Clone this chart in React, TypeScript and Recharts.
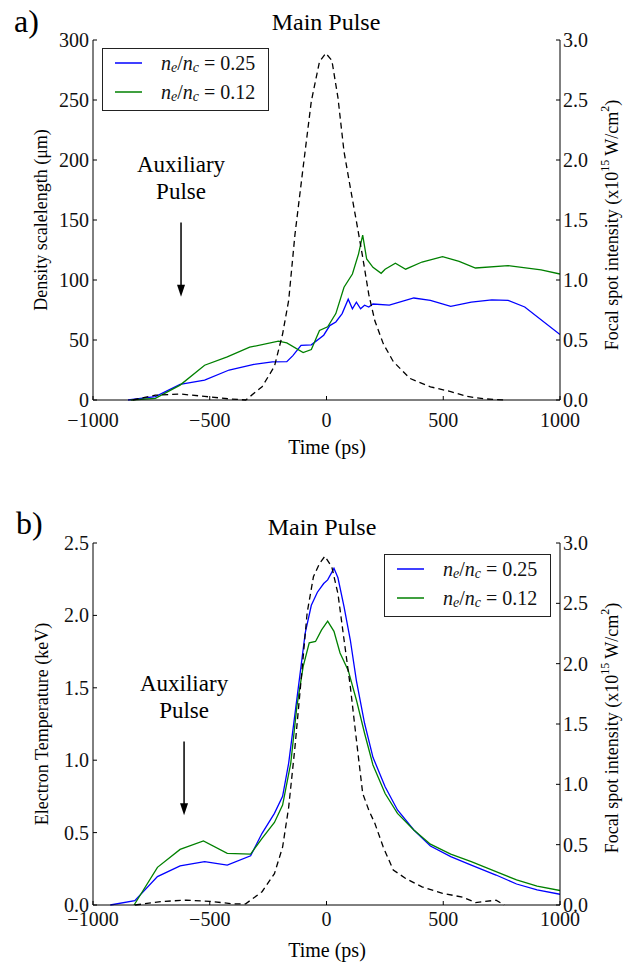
import { ComposedChart, Line, XAxis, YAxis, ReferenceLine, Legend } from 'recharts'

// ---- panel a) density scalelength ----
const topBlueTime = [-850, -733, -627, -522, -417, -311, -232, -170, -144, -109, -65, -12, 14, 40, 67, 93, 111, 128, 146, 163, 181, 199, 269, 374, 445, 532, 620, 708, 778, 849, 1000]
const topBlue = [0, 2.8, 13, 16.6, 25, 29.6, 31.8, 32, 37, 45.6, 46, 54, 62, 65, 72, 84, 76, 81.5, 76, 79, 77.5, 80, 79, 85, 83, 78, 81.5, 83.5, 83, 77.5, 54.5]

const topGreenTime = [-838, -733, -627, -522, -425, -329, -206, -170, -100, -65, -30, 5, 40, 75, 111, 137, 155, 172, 199, 234, 251, 295, 339, 409, 497, 568, 638, 778, 919, 1000]
const topGreen = [0, 1.4, 12.4, 29, 36, 44, 49, 47.6, 39.5, 42, 58, 61, 72, 94, 105, 121.6, 137.4, 117.5, 110.6, 105.6, 109, 114, 109, 115, 119.5, 115.6, 110, 112, 108.4, 105]

const topPulseTime = [-830, -733, -627, -522, -420, -346, -276, -223, -188, -162, -135, -100, -65, -30, -3, 23, 49, 75, 102, 128, 155, 181, 207, 243, 286, 357, 445, 532, 603, 673, 761]
const topPulse = [0, 0.04, 0.05, 0.03, 0.01, 0, 0.11, 0.28, 0.55, 0.83, 1.38, 1.94, 2.49, 2.82, 2.89, 2.83, 2.52, 2.07, 1.77, 1.49, 1.19, 0.88, 0.66, 0.47, 0.32, 0.18, 0.11, 0.07, 0.03, 0.01, 0]

// ---- panel b) electron temperature ----
const botBlueTime = [-926, -821, -724, -627, -522, -425, -325, -276, -223, -188, -162, -135, -109, -91, -65, -39, -12, 5, 32, 49, 75, 102, 128, 163, 199, 251, 304, 374, 445, 532, 620, 726, 814, 902, 1000]
const botBlue = [0, 0.03, 0.196, 0.27, 0.3, 0.276, 0.34, 0.495, 0.633, 0.75, 0.98, 1.32, 1.65, 1.88, 2.07, 2.16, 2.22, 2.245, 2.325, 2.26, 2.06, 1.83, 1.55, 1.255, 1.02, 0.817, 0.656, 0.518, 0.407, 0.334, 0.276, 0.207, 0.145, 0.104, 0.074]

const botGreenTime = [-824, -724, -627, -527, -425, -325, -276, -223, -188, -153, -127, -100, -74, -47, -21, 5, 32, 58, 93, 128, 163, 199, 251, 304, 374, 445, 532, 620, 726, 814, 902, 1000]
const botGreen = [0, 0.26, 0.384, 0.442, 0.357, 0.352, 0.46, 0.57, 0.69, 0.98, 1.37, 1.646, 1.81, 1.82, 1.9, 1.96, 1.89, 1.74, 1.62, 1.416, 1.186, 0.967, 0.77, 0.633, 0.518, 0.42, 0.352, 0.3, 0.23, 0.173, 0.131, 0.1]

const botPulseTime = [-820, -700, -600, -500, -400, -346, -276, -223, -188, -162, -135, -109, -83, -56, -30, -7, 23, 49, 75, 102, 128, 155, 181, 207, 243, 286, 339, 409, 497, 585, 638, 726, 761]
const botPulse = [0, 0.03, 0.04, 0.03, 0.01, 0.01, 0.11, 0.26, 0.48, 0.81, 1.31, 1.86, 2.42, 2.72, 2.83, 2.89, 2.8, 2.58, 2.2, 1.81, 1.37, 0.925, 0.787, 0.677, 0.48, 0.29, 0.22, 0.15, 0.097, 0.064, 0.02, 0.04, 0]

const timeTicks = [-1000, -500, 0, 500, 1000]
const densityTicks = [0, 50, 100, 150, 200, 250, 300]
const tempTicks = [0, 0.5, 1, 1.5, 2, 2.5]
const intensityTicks = [0, 0.5, 1, 1.5, 2, 2.5, 3]
const ratioLabels = ['0.25', '0.12']

const FONT = "'Liberation Serif', 'Times New Roman', 'DejaVu Serif', serif"
const BLUE = '#0000ff'
const GREEN = '#008000'

const pts = (ts: number[], vs: number[]) => ts.map((t, i) => ({ t, v: vs[i] }))
const minus = (n: number) => (n < 0 ? '\u2212' + Math.abs(n) : String(n))
const serif = { fontFamily: FONT }

const xTick = (offset: number) => (p: any) => (
  <g>
    <line x1={p.x} x2={p.x} y1={p.y} y2={p.y - 4} stroke="#000" />
    <text x={p.x} y={p.y + offset} textAnchor="middle" dominantBaseline="central" fontSize={20} style={serif} fill="#111">
      {minus(p.payload.value)}
    </text>
  </g>
)

const leftTick = (fmt: (v: number) => string) => (p: any) => (
  <g>
    <line x1={p.x} x2={p.x + 4} y1={p.y} y2={p.y} stroke="#000" />
    <text x={p.x - 4} y={p.y} textAnchor="end" dominantBaseline="central" fontSize={20} style={serif} fill="#111">
      {fmt(p.payload.value)}
    </text>
  </g>
)

const rightTick = (p: any) => (
  <g>
    <line x1={p.x} x2={p.x - 4} y1={p.y} y2={p.y} stroke="#000" />
    <text x={p.x + 3} y={p.y} textAnchor="start" dominantBaseline="central" fontSize={20} style={serif} fill="#111">
      {p.payload.value.toFixed(1)}
    </text>
  </g>
)

// arrow + "Auxiliary Pulse" note
const arrowShape = (p: any) => {
  const { x1, y1, x2, y2 } = p
  return (
    <g>
      <text x={x1} y={y1 - 58} textAnchor="middle" dominantBaseline="central" fontSize={23} style={serif}>Auxiliary</text>
      <text x={x1} y={y1 - 31} textAnchor="middle" dominantBaseline="central" fontSize={23} style={serif}>Pulse</text>
      <line x1={x1} y1={y1} x2={x2} y2={y2 - 10} stroke="#000" strokeWidth={1.5} />
      <polygon points={`${x2 - 4},${y2 - 12} ${x2 + 4},${y2 - 12} ${x2},${y2}`} fill="#000" />
    </g>
  )
}

const LegendBox = ({ payload }: any) => {
  const items = (payload || [])
    .map((e: any) => ({ color: e.color, val: String(e.value).split('= ')[1] }))
    .filter((e: any) => ratioLabels.includes(e.val))
    .sort((a: any, b: any) => ratioLabels.indexOf(a.val) - ratioLabels.indexOf(b.val))
  return (
    <div style={{ width: 167, height: 63, border: '1.5px solid #222', background: '#fff', boxSizing: 'border-box' }}>
      <svg width={164} height={60} style={{ display: 'block' }}>
        {items.map((e: any, i: number) => {
          const cy = 14 + i * 29
          return (
            <g key={i}>
              <line x1={12} x2={39} y1={cy} y2={cy} stroke={e.color} strokeWidth={1.5} />
              <text x={58} y={cy} dominantBaseline="central" fontSize={20} style={serif} fill="#111">
                <tspan fontStyle="italic">n</tspan>
                <tspan fontStyle="italic" fontSize={14} dy={4}>e</tspan>
                <tspan dy={-4}>/</tspan>
                <tspan fontStyle="italic">n</tspan>
                <tspan fontStyle="italic" fontSize={14} dy={4}>c</tspan>
                <tspan dy={-4}> = {e.val}</tspan>
              </text>
            </g>
          )
        })}
      </svg>
    </div>
  )
}

const IntensityLabel = ({ x, y }: { x: number; y: number }) => (
  <text x={x} y={y} transform={`rotate(-90 ${x} ${y})`} textAnchor="middle" dominantBaseline="central" fontSize={18} style={serif}>
    Focal spot intensity (x10<tspan fontSize={12} dy={-7}>15</tspan>
    <tspan dy={7}> W/cm</tspan>
    <tspan fontSize={12} dy={-7}>2</tspan>
    <tspan dy={7}>)</tspan>
  </text>
)

function Panel({ top, height, margin, blue, green, pulse, leftDomain, leftTicks, leftFmt, tickOffset, arrow, legendPos }: any) {
  return (
    <div style={{ position: 'absolute', left: 0, top }}>
      <ComposedChart width={643} height={height} margin={margin}>
        <XAxis
          dataKey="t" type="number" domain={[-1000, 1000]} ticks={timeTicks} interval={0}
          allowDataOverflow height={30} tickSize={0} tickMargin={0} tickLine={false}
          axisLine={{ stroke: '#000' }} tick={xTick(tickOffset)}
        />
        <YAxis
          yAxisId="left" domain={leftDomain} ticks={leftTicks} interval={0} width={60}
          tickSize={0} tickMargin={0} tickLine={false} axisLine={{ stroke: '#000' }} tick={leftTick(leftFmt)}
        />
        <YAxis
          yAxisId="right" orientation="right" domain={[0, 3]} ticks={intensityTicks} interval={0} width={60}
          tickSize={0} tickMargin={0} tickLine={false} axisLine={{ stroke: '#000' }} tick={rightTick}
        />
        <Legend
          layout="vertical" align="center" verticalAlign="middle" content={<LegendBox />}
          wrapperStyle={{ left: legendPos[0], top: legendPos[1], width: 167, height: 63 }}
        />
        <Line yAxisId="left" data={blue} dataKey="v" name={`n_e/n_c = ${ratioLabels[0]}`} stroke={BLUE} strokeWidth={1.3} dot={false} isAnimationActive={false} />
        <Line yAxisId="left" data={green} dataKey="v" name={`n_e/n_c = ${ratioLabels[1]}`} stroke={GREEN} strokeWidth={1.3} dot={false} isAnimationActive={false} />
        <Line yAxisId="right" data={pulse} dataKey="v" name="pulse" legendType="none" stroke="#000" strokeWidth={1.3} strokeDasharray="6 4" dot={false} isAnimationActive={false} />
        <ReferenceLine yAxisId="left" segment={arrow} shape={arrowShape} ifOverflow="visible" />
      </ComposedChart>
    </div>
  )
}

export default function App() {
  return (
    <div style={{ position: 'absolute', left: 0, top: 0, width: 643, height: 963, background: '#fff', fontFamily: FONT }}>
      <Panel
        top={0} height={470} margin={{ top: 40, right: 23, left: 33, bottom: 40 }}
        blue={pts(topBlueTime, topBlue)} green={pts(topGreenTime, topGreen)} pulse={pts(topPulseTime, topPulse)}
        leftDomain={[0, 300]} leftTicks={densityTicks} leftFmt={(v: number) => String(v)} tickOffset={20}
        arrow={[{ x: -623, y: 148 }, { x: -623, y: 86 }]} legendPos={[102, 48]}
      />
      <Panel
        top={470} height={493} margin={{ top: 73, right: 23, left: 33, bottom: 28 }}
        blue={pts(botBlueTime, botBlue)} green={pts(botGreenTime, botGreen)} pulse={pts(botPulseTime, botPulse)}
        leftDomain={[0, 2.5]} leftTicks={tempTicks} leftFmt={(v: number) => v.toFixed(1)} tickOffset={14}
        arrow={[{ x: -610, y: 1.13 }, { x: -610, y: 0.62 }]} legendPos={[384, 84]}
      />
      <svg width={643} height={963} style={{ position: 'absolute', left: 0, top: 0, pointerEvents: 'none', fontFamily: FONT }}>
        <text x={14} y={21} fontSize={32} dominantBaseline="central">a)</text>
        <text x={16} y={523} fontSize={32} dominantBaseline="central">b)</text>
        <text x={326} y={22} fontSize={24} textAnchor="middle" dominantBaseline="central">Main Pulse</text>
        <text x={322} y={527} fontSize={24} textAnchor="middle" dominantBaseline="central">Main Pulse</text>
        <text x={327} y={447} fontSize={20} textAnchor="middle" dominantBaseline="central">Time (ps)</text>
        <text x={327} y={950} fontSize={20} textAnchor="middle" dominantBaseline="central">Time (ps)</text>
        <text x={41} y={220} fontSize={18} textAnchor="middle" dominantBaseline="central" transform="rotate(-90 41 220)">Density scalelength (μm)</text>
        <text x={42} y={724} fontSize={18} textAnchor="middle" dominantBaseline="central" transform="rotate(-90 42 724)">Electron Temperature (keV)</text>
        <IntensityLabel x={612} y={225} />
        <IntensityLabel x={612} y={728} />
      </svg>
    </div>
  )
}
